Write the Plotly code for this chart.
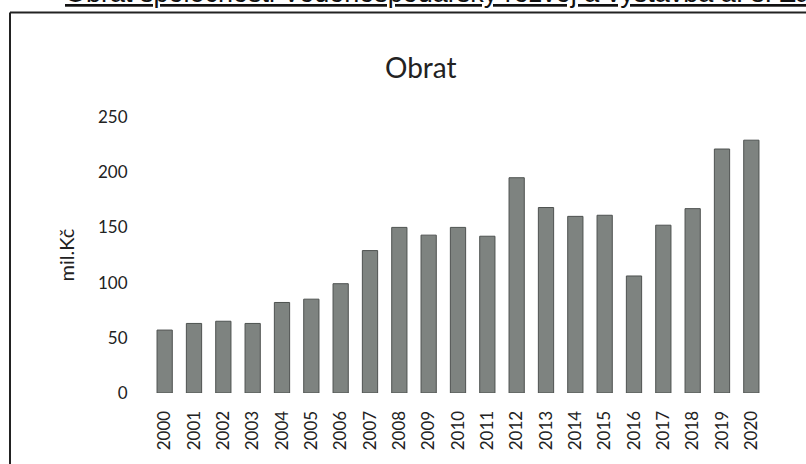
import plotly.graph_objects as go

years = [str(y) for y in range(2000, 2021)]
obrat = [57, 63, 65, 63, 82, 85, 99, 129, 150, 143, 150, 142, 195, 168, 160, 161, 106, 152, 167, 221, 229]
y_ticks = [0, 50, 100, 150, 200, 250]

W, H = 806, 464
L, R, T, B = 150, 40, 117, 71
pw, ph = W - L - R, H - T - B

def px(x):
    return (x - L) / pw

def py(y):
    return (H - B - y) / ph

fig = go.Figure()
fig.add_trace(go.Bar(
    x=years, y=obrat,
    marker=dict(color="rgb(126,131,128)", line=dict(color="rgb(78,82,80)", width=1)),
    width=0.52,
))

fig.update_layout(
    width=W, height=H,
    margin=dict(l=L, r=R, t=T, b=B, autoexpand=False),
    paper_bgcolor="white", plot_bgcolor="white",
    showlegend=False,
    font=dict(family="Lato", color="#222"),
    xaxis=dict(
        type="category", tickangle=-90, tickfont=dict(size=17, family="Lato", color="#222"),
        showgrid=False, showline=False, zeroline=False, automargin=False,
        ticks="outside", ticklen=10, tickcolor="rgba(0,0,0,0)",
    ),
    yaxis=dict(
        range=[0, 250], tickvals=y_ticks, tickfont=dict(size=17, family="Lato", color="#222"),
        showgrid=False, showline=False, zeroline=False, automargin=False,
        ticks="outside", ticklen=18, tickcolor="rgba(0,0,0,0)",
        title=dict(text="mil.Kč", font=dict(size=20, family="Lato", color="#222"), standoff=18),
    ),
)

fig.add_annotation(
    text="Obrat", xref="paper", yref="paper", x=px(421), y=py(67),
    showarrow=False, font=dict(size=28, family="Lato", color="#222"),
    xanchor="center", yanchor="middle",
)

fig.add_annotation(
    text="<u>Obrat společnosti Vodohospodářský rozvoj a výstavba a. s. Za roky 2000–2020</u>",
    xref="paper", yref="paper", x=px(63), y=py(10.5),
    showarrow=False, font=dict(size=27, family="Liberation Sans", color="#111"),
    xanchor="left", yanchor="bottom",
)

# outer frame of the embedded chart (top and left edges visible)
fig.add_shape(type="line", xref="paper", yref="paper",
              x0=px(10), x1=px(810), y0=py(12.5), y1=py(12.5),
              line=dict(color="#222", width=2))
fig.add_shape(type="line", xref="paper", yref="paper",
              x0=px(10), x1=px(10), y0=py(12.5), y1=py(470),
              line=dict(color="#222", width=2))

fig.write_html("out.html", config={"displayModeBar": False},
               post_script="document.body.style.margin='0';")
